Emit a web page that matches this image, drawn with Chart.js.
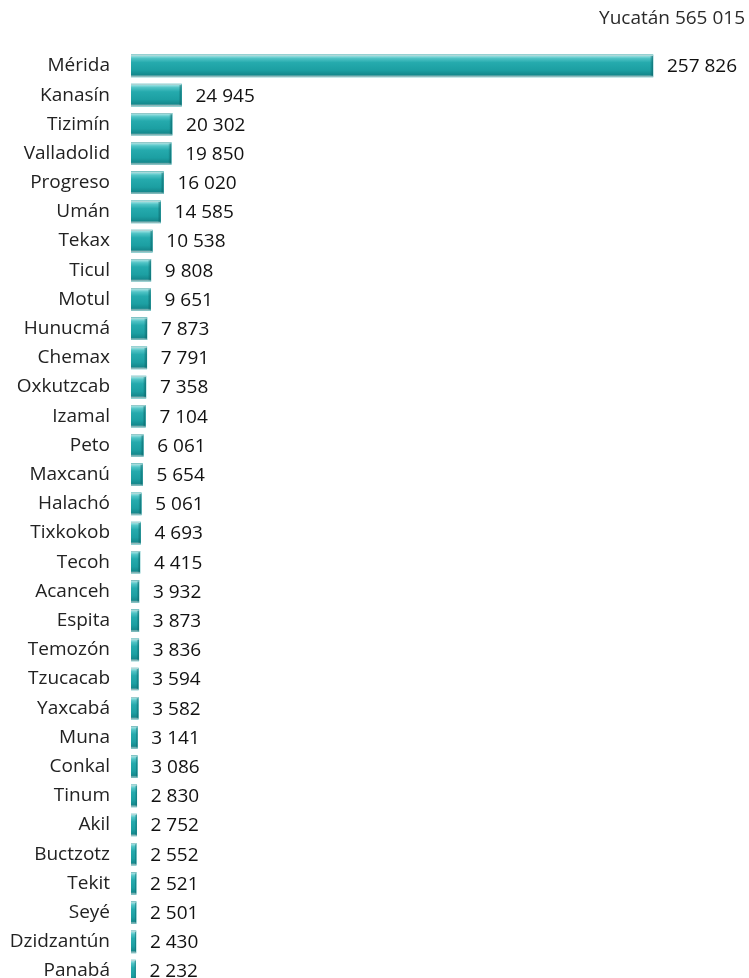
<!DOCTYPE html>
<html>
<head>
<meta charset="utf-8">
<script src="https://cdn.jsdelivr.net/npm/chart.js@4"></script>
<style>
  html, body { margin: 0; padding: 0; background: #fff; overflow: hidden; }
  canvas { display: block; }
</style>
</head>
<body>
<canvas id="chart" width="749" height="1018"></canvas>
<script>
const stateName = 'Yucatán';
const stateTotal = 565015;

const municipios = ['Mérida', 'Kanasín', 'Tizimín', 'Valladolid', 'Progreso', 'Umán', 'Tekax', 'Ticul',
  'Motul', 'Hunucmá', 'Chemax', 'Oxkutzcab', 'Izamal', 'Peto', 'Maxcanú', 'Halachó', 'Tixkokob',
  'Tecoh', 'Acanceh', 'Espita', 'Temozón', 'Tzucacab', 'Yaxcabá', 'Muna', 'Conkal', 'Tinum', 'Akil',
  'Buctzotz', 'Tekit', 'Seyé', 'Dzidzantún', 'Panabá'];

const poblacion = [257826, 24945, 20302, 19850, 16020, 14585, 10538, 9808,
  9651, 7873, 7791, 7358, 7104, 6061, 5654, 5061, 4693,
  4415, 3932, 3873, 3836, 3594, 3582, 3141, 3086, 2830, 2752,
  2552, 2521, 2501, 2430, 2232];

const fontFamily = '"Open Sans", "Noto Sans", sans-serif';

// numbers are written with a space between thousands
function fmt(n) {
  return String(n).replace(/\B(?=(\d{3})+(?!\d))/g, ' ');
}

// glassy shading on top of each bar, plus the value next to it
const barDecor = {
  id: 'barDecor',
  afterDatasetsDraw(chart) {
    const ctx = chart.ctx;
    const meta = chart.getDatasetMeta(0);
    meta.data.forEach((bar, i) => {
      const left = Math.min(bar.base, bar.x);
      const right = Math.max(bar.base, bar.x);
      const top = bar.y - bar.height / 2;
      const bottom = bar.y + bar.height / 2;
      const w = right - left;
      const h = bottom - top;

      ctx.save();
      const g = ctx.createLinearGradient(0, top, 0, bottom);
      g.addColorStop(0, '#c9d6d6');
      g.addColorStop(0.06, '#8fdcdd');
      g.addColorStop(0.16, '#4fc3c5');
      g.addColorStop(0.35, '#25aaad');
      g.addColorStop(0.7, '#1c9fa2');
      g.addColorStop(0.9, '#15898d');
      g.addColorStop(1, '#b9c9ca');
      ctx.fillStyle = g;
      ctx.fillRect(left, top, w, h);

      // darker right edge
      const ew = Math.min(3, w * 0.3);
      const g2 = ctx.createLinearGradient(right - ew, 0, right, 0);
      g2.addColorStop(0, 'rgba(10,100,104,0)');
      g2.addColorStop(1, 'rgba(10,100,104,0.75)');
      ctx.fillStyle = g2;
      ctx.fillRect(right - ew, top + 1, ew, h - 2);

      ctx.fillStyle = '#111';
      ctx.font = '19px ' + fontFamily;
      ctx.textAlign = 'left';
      ctx.textBaseline = 'middle';
      ctx.fillText(fmt(poblacion[i]), right + 14, bar.y + 1);
      ctx.restore();
    });
  }
};

new Chart(document.getElementById('chart'), {
  type: 'bar',
  data: {
    labels: municipios,
    datasets: [{
      data: poblacion,
      backgroundColor: '#22a3a6',
      borderWidth: 0,
      barThickness: 22
    }]
  },
  plugins: [barDecor],
  options: {
    indexAxis: 'y',
    responsive: false,
    animation: false,
    layout: { padding: { left: 0, right: 4, top: 0, bottom: 0 } },
    plugins: {
      legend: { display: false },
      tooltip: { enabled: false },
      title: {
        display: true,
        text: stateName + ' ' + fmt(stateTotal),
        align: 'end',
        color: '#2a2a2a',
        font: { family: fontFamily, size: 19, weight: 'normal' },
        padding: { top: 7, bottom: 21.5 }
      }
    },
    scales: {
      x: {
        display: false,
        min: 0,
        max: 303300
      },
      y: {
        grid: { display: false, drawTicks: false },
        border: { display: false },
        ticks: {
          color: '#222',
          padding: 21,
          font: { family: fontFamily, size: 19 }
        },
        afterFit(scale) { scale.width = 131; }
      }
    }
  }
});
</script>
</body>
</html>
